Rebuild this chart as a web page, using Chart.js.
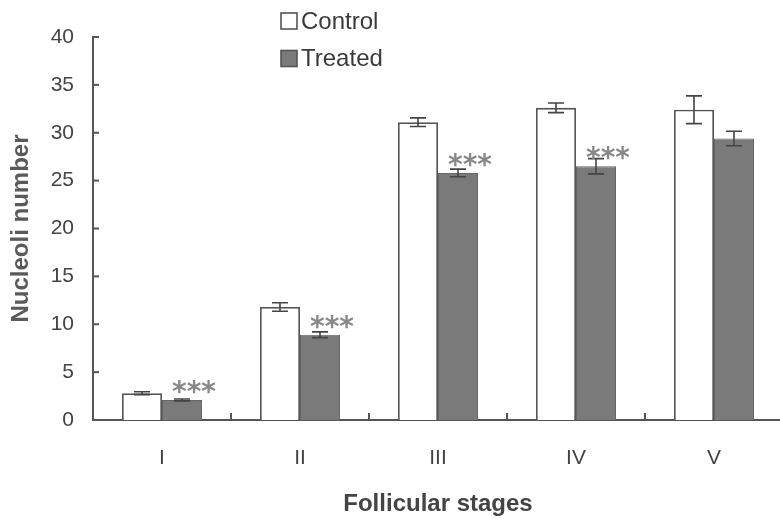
<!DOCTYPE html>
<html><head><meta charset="utf-8">
<script src="https://cdn.jsdelivr.net/npm/chart.js@4.4.0/dist/chart.umd.min.js"></script>
<style>html,body{margin:0;padding:0;background:#fff;overflow:hidden}#wrap{width:783px;height:519px}</style>
</head><body><div id="wrap"><canvas id="c"></canvas></div>
<script>
const categories = ["I", "II", "III", "IV", "V"];
const controlValues = [2.8, 11.8, 31.1, 32.6, 32.4];
const controlErrors = [0.15, 0.45, 0.45, 0.5, 1.45];
const treatedValues = [2.1, 8.9, 25.8, 26.5, 29.4];
const treatedErrors = [0.1, 0.3, 0.4, 0.8, 0.75];
const significance = ["***", "***", "***", "***", ""];
const yTicks = [0, 5, 10, 15, 20, 25, 30, 35, 40];

const FONT = "'Liberation Sans', Arial, sans-serif";

const overlay = {
  id: 'overlay',
  afterDatasetsDraw(chart) {
    const ctx = chart.ctx;
    const x = chart.scales.x, y = chart.scales.y;
    const area = chart.chartArea;
    ctx.save();
    ctx.strokeStyle = '#555'; ctx.lineWidth = 2;
    yTicks.forEach(v => {
      const py = y.getPixelForValue(v);
      ctx.beginPath(); ctx.moveTo(area.left, py); ctx.lineTo(area.left + 6, py); ctx.stroke();
    });
    for (let i = 1; i < categories.length; i++) {
      const px = (x.getPixelForValue(i - 1) + x.getPixelForValue(i)) / 2;
      ctx.beginPath(); ctx.moveTo(px, area.bottom); ctx.lineTo(px, area.bottom - 7); ctx.stroke();
    }
    const sets = [[0, controlValues, controlErrors], [1, treatedValues, treatedErrors]];
    ctx.strokeStyle = '#444'; ctx.lineWidth = 1.6;
    sets.forEach(([di, vals, errs]) => {
      const meta = chart.getDatasetMeta(di);
      meta.data.forEach((bar, i) => {
        const cx = bar.x;
        const t = y.getPixelForValue(vals[i] + errs[i]);
        const b = y.getPixelForValue(vals[i] - errs[i]);
        ctx.beginPath();
        ctx.moveTo(cx, t); ctx.lineTo(cx, b);
        ctx.moveTo(cx - 8, t); ctx.lineTo(cx + 8, t);
        ctx.moveTo(cx - 8, b); ctx.lineTo(cx + 8, b);
        ctx.stroke();
      });
    });
    // significance stars
    ctx.fillStyle = '#888';
    ctx.font = "bold 28px 'DejaVu Sans', sans-serif";
    ctx.textAlign = 'left'; ctx.textBaseline = 'alphabetic';
    const m = ctx.measureText('*');
    const half = (m.actualBoundingBoxAscent - m.actualBoundingBoxDescent) / 2;
    const tm = chart.getDatasetMeta(1);
    tm.data.forEach((bar, i) => {
      if (!significance[i]) return;
      const centerY = y.getPixelForValue(treatedValues[i]) - 13;
      ctx.fillText(significance[i], bar.x - 10, centerY + half);
    });
    // legend
    const items = [['Control', '#ffffff'], ['Treated', '#7a7a7a']];
    ctx.font = '24px ' + FONT;
    ctx.textBaseline = 'middle';
    items.forEach(([label, fill], k) => {
      const ly = 21 + k * 37.5;
      ctx.fillStyle = fill; ctx.strokeStyle = '#555'; ctx.lineWidth = 1.6;
      ctx.fillRect(281, ly - 8, 16, 16); ctx.strokeRect(281, ly - 8, 16, 16);
      ctx.fillStyle = '#3a3a3a';
      ctx.fillText(label, 301, ly + 1);
    });
    ctx.restore();
  }
};

new Chart(document.getElementById('c'), {
  type: 'bar',
  data: {
    labels: categories,
    datasets: [
      { label: 'Control', data: controlValues, backgroundColor: '#ffffff', borderColor: '#555', borderWidth: 1.8, categoryPercentage: 0.58, barPercentage: 1.0, borderSkipped: 'bottom' },
      { label: 'Treated', data: treatedValues, backgroundColor: '#7a7a7a', borderColor: '#666', borderWidth: 1, categoryPercentage: 0.58, barPercentage: 1.0, borderSkipped: 'bottom' }
    ]
  },
  options: {
    responsive: true, maintainAspectRatio: false, animation: false,
    layout: { padding: { top: 37, right: 0, left: 0, bottom: 0 } },
    plugins: { legend: { display: false }, tooltip: { enabled: false } },
    scales: {
      x: {
        grid: { display: false, drawTicks: false },
        border: { display: true, color: '#555', width: 2 },
        ticks: { color: '#444', font: { size: 21, family: FONT }, padding: 26 },
        title: { display: true, text: 'Follicular stages', color: '#444', font: { size: 24, weight: 'bold', family: FONT }, padding: { top: 4, bottom: 0 } },
        afterFit(s) { s.height = 99; }
      },
      y: {
        min: 0, max: 40,
        grid: { display: false, drawTicks: false },
        border: { display: true, color: '#555', width: 2 },
        ticks: { stepSize: 5, color: '#444', font: { size: 21, family: FONT }, padding: 19 },
        title: { display: true, text: 'Nucleoli number', color: '#5a5a5a', font: { size: 24, weight: 'bold', family: FONT }, padding: { top: 7, bottom: 7 } },
        afterFit(s) { s.width = 93; }
      }
    }
  },
  plugins: [overlay]
});
</script></body></html>
